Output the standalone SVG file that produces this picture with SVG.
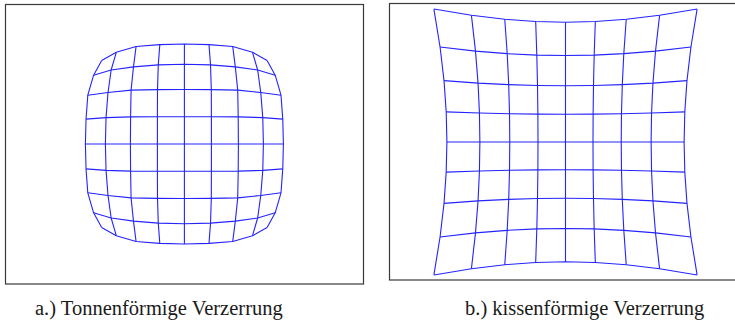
<svg xmlns="http://www.w3.org/2000/svg" width="735" height="320" viewBox="0 0 735 320">
<style>
.frame{fill:none;stroke:#3a3a3a;stroke-width:1.2}
.grid polyline{fill:none;stroke:#2424ff;stroke-width:1.1;stroke-linejoin:round}
.cap{font-size:20.5px;fill:#1a1a1a}
</style>
<rect width="735" height="320" fill="#fff"/>
<g id="panel-a">
<rect class="frame" x="5.5" y="4.5" width="358" height="279.5"/>
<g class="grid">
<polyline points="184.4,44 184.4,244"/>
<polyline points="209.0,44.66 210.52,64.86 211.3,89.66 211.4,116.73 211.4,144 211.4,171.27 211.3,198.34 210.52,223.14 209.0,243.34"/>
<polyline points="159.81,44.66 158.28,64.86 157.5,89.66 157.4,116.73 157.4,144 157.4,171.27 157.5,198.34 158.28,223.14 159.81,243.34"/>
<polyline points="232.7,46.43 235.32,66.86 237.72,90.15 238.2,116.83 238.4,144 238.2,171.17 237.72,197.85 235.32,221.14 232.7,241.57"/>
<polyline points="136.1,46.43 133.48,66.86 131.08,90.15 130.6,116.83 130.4,144 130.6,171.17 131.08,197.85 133.48,221.14 136.1,241.57"/>
<polyline points="252.5,52.29 257.66,70.01 260.78,92.57 262.76,117.62 263.4,144 262.76,170.38 260.78,195.43 257.66,217.99 252.5,235.71"/>
<polyline points="116.3,52.29 111.14,70.01 108.02,92.57 106.04,117.62 105.4,144 106.04,170.38 108.02,195.43 111.14,217.99 116.3,235.71"/>
<polyline points="267.12,60.45 275.2,75.22 281.0,95.22 282.76,119.16 283.4,144 282.76,168.84 281.0,192.78 275.2,212.78 267.12,227.55"/>
<polyline points="101.68,60.45 93.6,75.22 87.8,95.22 86.04,119.16 85.4,144 86.04,168.84 87.8,192.78 93.6,212.78 101.68,227.55"/>
<polyline points="85.4,144 283.4,144"/>
<polyline points="86.04,119.16 106.04,117.62 130.6,116.83 157.4,116.73 184.4,116.73 211.4,116.73 238.2,116.83 262.76,117.62 282.76,119.16"/>
<polyline points="86.04,168.84 106.04,170.38 130.6,171.17 157.4,171.27 184.4,171.27 211.4,171.27 238.2,171.17 262.76,170.38 282.76,168.84"/>
<polyline points="87.8,95.22 108.02,92.57 131.08,90.15 157.5,89.66 184.4,89.46 211.3,89.66 237.72,90.15 260.78,92.57 281.0,95.22"/>
<polyline points="87.8,192.78 108.02,195.43 131.08,197.85 157.5,198.34 184.4,198.54 211.3,198.34 237.72,197.85 260.78,195.43 281.0,192.78"/>
<polyline points="93.6,75.22 111.14,70.01 133.48,66.86 158.28,64.86 184.4,64.22 210.52,64.86 235.32,66.86 257.66,70.01 275.2,75.22"/>
<polyline points="93.6,212.78 111.14,217.99 133.48,221.14 158.28,223.14 184.4,223.78 210.52,223.14 235.32,221.14 257.66,217.99 275.2,212.78"/>
<polyline points="101.68,60.45 116.3,52.29 136.1,46.43 159.81,44.66 184.4,44.01 208.99,44.66 232.7,46.43 252.5,52.29 267.12,60.45"/>
<polyline points="101.68,227.55 116.3,235.71 136.1,241.57 159.81,243.34 184.4,243.99 208.99,243.34 232.7,241.57 252.5,235.71 267.12,227.55"/>
</g>
<text class="cap" font-family="'Liberation Serif', 'DejaVu Serif', serif" x="35" y="314.5">a.) Tonnenförmige Verzerrung</text>
</g>
<g id="panel-b">
<rect class="frame" x="389.5" y="3.5" width="360" height="276.5"/>
<g class="grid">
<polyline points="565.5,22.21 565.5,261.79"/>
<polyline points="595.32,21.51 594.19,55.08 593.49,85.46 593.12,114.11 593.0,142 593.12,169.89 593.49,198.54 594.19,228.92 595.32,262.49"/>
<polyline points="535.68,21.51 536.81,55.08 537.51,85.46 537.88,114.11 538.0,142 537.88,169.89 537.51,198.54 536.81,228.92 535.68,262.49"/>
<polyline points="626.24,19.31 623.8,53.67 622.29,84.64 621.48,113.73 621.22,142 621.48,170.27 622.29,199.36 623.8,230.33 626.24,264.69"/>
<polyline points="504.76,19.31 507.2,53.67 508.71,84.64 509.52,113.73 509.78,142 509.52,170.27 508.71,199.36 507.2,230.33 504.76,264.69"/>
<polyline points="659.57,15.32 655.51,51.09 652.95,83.12 651.56,113.03 651.12,142 651.56,170.97 652.95,200.88 655.51,232.91 659.57,268.68"/>
<polyline points="471.43,15.32 475.49,51.09 478.05,83.12 479.44,113.03 479.88,142 479.44,170.97 478.05,200.88 475.49,232.91 471.43,268.68"/>
<polyline points="697.1,9.08 690.93,46.99 686.98,80.65 684.8,111.88 684.1,142 684.8,172.12 686.98,203.35 690.93,237.01 697.1,274.92"/>
<polyline points="433.9,9.08 440.07,46.99 444.02,80.65 446.2,111.88 446.9,142 446.2,172.12 444.02,203.35 440.07,237.01 433.9,274.92"/>
<polyline points="446.9,142 684.1,142"/>
<polyline points="446.2,111.88 479.44,113.03 509.52,113.73 537.88,114.11 565.5,114.22 593.12,114.11 621.48,113.73 651.56,113.03 684.8,111.88"/>
<polyline points="446.2,172.12 479.44,170.97 509.52,170.27 537.88,169.89 565.5,169.78 593.12,169.89 621.48,170.27 651.56,170.97 684.8,172.12"/>
<polyline points="444.02,80.65 478.05,83.12 508.71,84.64 537.51,85.46 565.5,85.72 593.49,85.46 622.29,84.64 652.95,83.12 686.98,80.65"/>
<polyline points="444.02,203.35 478.05,200.88 508.71,199.36 537.51,198.54 565.5,198.28 593.49,198.54 622.29,199.36 652.95,200.88 686.98,203.35"/>
<polyline points="440.07,46.99 475.49,51.09 507.2,53.67 536.81,55.08 565.5,55.53 594.19,55.08 623.8,53.67 655.51,51.09 690.93,46.99"/>
<polyline points="440.07,237.01 475.49,232.91 507.2,230.33 536.81,228.92 565.5,228.47 594.19,228.92 623.8,230.33 655.51,232.91 690.93,237.01"/>
<polyline points="433.9,9.08 471.43,15.32 504.76,19.31 535.68,21.51 565.5,22.21 595.32,21.51 626.24,19.31 659.57,15.32 697.1,9.08"/>
<polyline points="433.9,274.92 471.43,268.68 504.76,264.69 535.68,262.49 565.5,261.79 595.32,262.49 626.24,264.69 659.57,268.68 697.1,274.92"/>
</g>
<text class="cap" font-family="'Liberation Serif', 'DejaVu Serif', serif" x="465" y="314.5">b.) kissenförmige Verzerrung</text>
</g>
</svg>
